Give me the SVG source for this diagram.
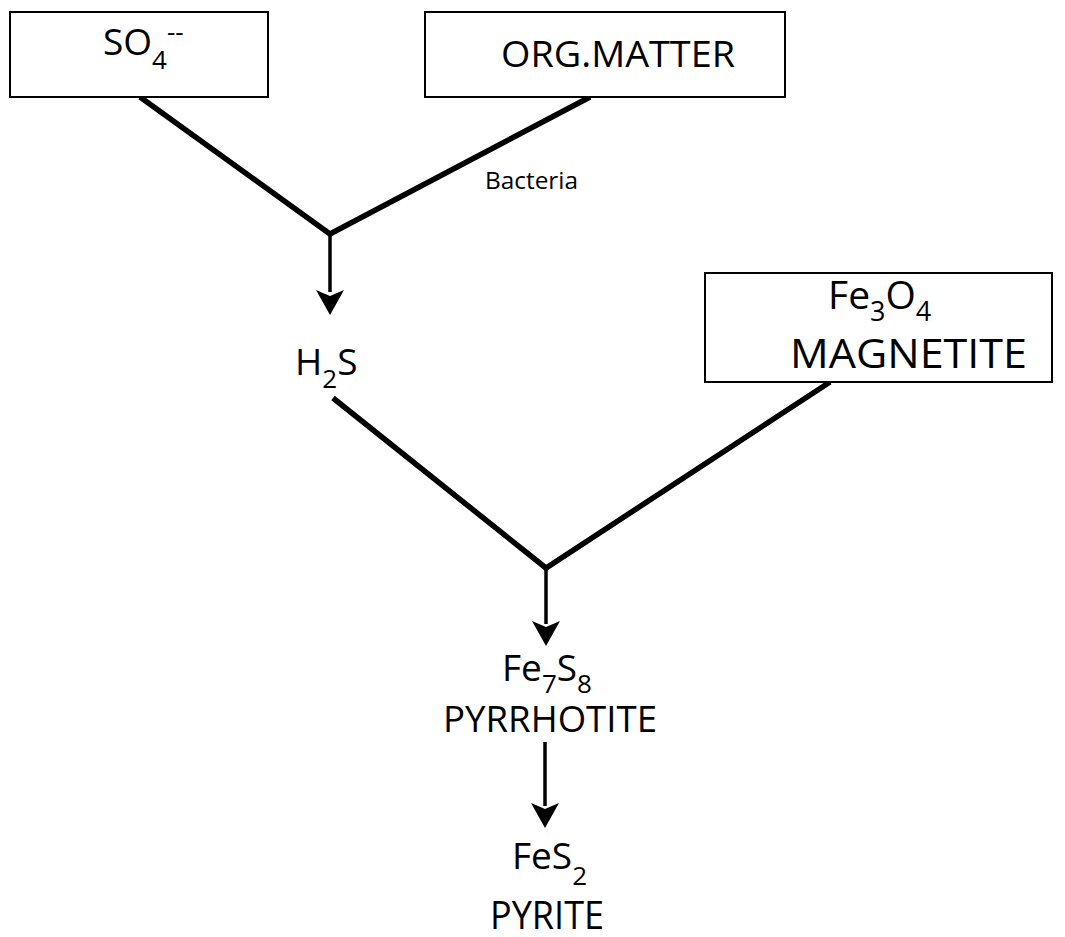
<svg xmlns="http://www.w3.org/2000/svg" width="1065" height="937" viewBox="0 0 1065 937">
<style>
.box{fill:#fff;stroke:#000;stroke-width:2}
.t{font-family:"Open Sans","Noto Sans",sans-serif;font-size:37px;fill:#000}
.sub{font-size:26px}
.thick{stroke:#000;stroke-width:5.5;fill:none;stroke-linejoin:miter}
.stem{stroke:#000;stroke-width:3.5;fill:none}
</style>
<defs>
<path id="head" d="M-14,0 L0,25 L14,0 L0,6 Z" fill="#000"/>
</defs>
<rect width="1065" height="937" fill="#fff"/>
<g id="connectors">
<polyline class="thick" points="140,97 330,234 590,97"/>
<polyline class="thick" points="333,398 546,568 830,382"/>
<line class="stem" x1="330" y1="234" x2="330" y2="292"/>
<use href="#head" x="330" y="290"/>
<line class="stem" x1="546" y1="568" x2="546" y2="624"/>
<use href="#head" x="546" y="621"/>
<line class="stem" x1="545" y1="742" x2="545" y2="806"/>
<use href="#head" x="545" y="803"/>
<text class="t" x="485" y="189" style="font-size:24px" textLength="93" lengthAdjust="spacingAndGlyphs">Bacteria</text>
</g>
<g id="so4">
<rect class="box" x="10" y="12" width="258" height="85"/>
<text class="t" x="103" y="55">SO<tspan class="sub" dy="14">4</tspan><tspan class="sub" dy="-28">--</tspan></text>
</g>
<g id="orgmatter">
<rect class="box" x="425" y="12" width="360" height="85"/>
<text class="t" x="501" y="67" textLength="234" lengthAdjust="spacingAndGlyphs">ORG.MATTER</text>
</g>
<g id="h2s">
<text class="t" x="295" y="375">H<tspan class="sub" dy="13">2</tspan><tspan dy="-13">S</tspan></text>
</g>
<g id="magnetite">
<rect class="box" x="705" y="273" width="347" height="109"/>
<text class="t" x="828" y="309" style="font-size:39px">Fe<tspan class="sub" style="font-size:27px" dy="12">3</tspan><tspan dy="-12">O</tspan><tspan class="sub" style="font-size:27px" dy="12">4</tspan></text>
<text class="t" x="790" y="368" style="font-size:40px" textLength="237" lengthAdjust="spacingAndGlyphs">MAGNETITE</text>
</g>
<g id="pyrrhotite">
<text class="t" x="502" y="681">Fe<tspan class="sub" dy="12">7</tspan><tspan dy="-12">S</tspan><tspan class="sub" dy="12">8</tspan></text>
<text class="t" x="443" y="732" textLength="214" lengthAdjust="spacingAndGlyphs">PYRRHOTITE</text>
</g>
<g id="pyrite">
<text class="t" x="512" y="869">FeS<tspan class="sub" dy="16">2</tspan></text>
<text class="t" x="490" y="929" style="font-size:38px" textLength="114" lengthAdjust="spacingAndGlyphs">PYRITE</text>
</g>
</svg>
